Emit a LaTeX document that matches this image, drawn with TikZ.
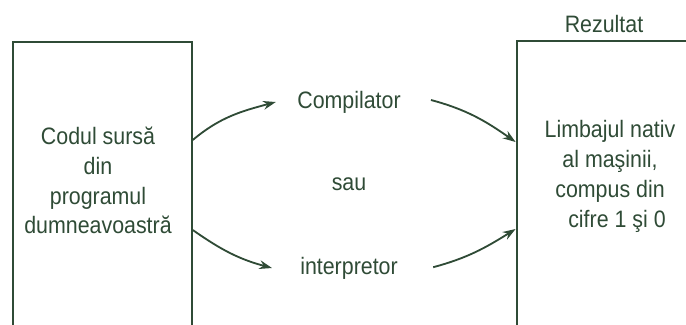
\documentclass[tikz,border=0pt]{standalone}
\usepackage{fontspec}
\setmainfont{Liberation Sans}[FakeStretch=0.9]
\usepackage{xcolor}
\usetikzlibrary{arrows.meta,calc}
\definecolor{inkGreen}{HTML}{2F4B36}
\tikzset{
  font=\fontsize{16.9}{21.3}\selectfont,
  every node/.style={text=inkGreen},
  arrow/.style={-{Stealth[length=3.2mm,width=2.2mm]}, draw=inkGreen, line width=1.3pt},
  frame/.style={rectangle, draw=inkGreen, line width=1.4pt, anchor=north west},
  block/.style={align=center, inner sep=0pt},
  stage/.style={inner sep=0pt}
}

\begin{document}
\begin{tikzpicture}[x=1cm,y=1cm]
\useasboundingbox (0,0) rectangle (17.15,8.1);

% --------------------------------------------------------------------------
% Source and result frames (open at the bottom)
% --------------------------------------------------------------------------
\node[frame, minimum width=4.48cm, minimum height=8.6cm] (src) at (0.29,7.075) {};
\node[frame, minimum width=5.5cm, minimum height=8.6cm] (res) at (12.89,7.1) {};
\node[stage] (resTitle) at (15.1,7.5) {Rezultat};

\node[block] (srcText) at (2.45,3.59) {Codul sursă\\din\\programul\\dumneavoastră};
\node[block] (resText) at (15.25,3.68) {Limbajul nativ\\al maşinii,\\compus din\\\hspace*{0.35cm}cifre 1 şi 0};

% --------------------------------------------------------------------------
% Translation paths
% --------------------------------------------------------------------------
\node[stage] (comp) at (8.725,5.55) {Compilator};
\node[stage] (sau) at (8.725,3.5) {sau};
\node[stage] (interp) at (8.725,1.4) {interpretor};

\coordinate (srcTop) at ($(src.north east)+(0,-2.475)$);
\coordinate (srcBot) at ($(src.north east)+(0,-4.725)$);
\coordinate (resTop) at ($(res.north west)+(0,-2.55)$);
\coordinate (resBot) at ($(res.north west)+(0,-4.725)$);

\draw[arrow] (srcTop) to[out=40,in=195] ($(comp.west)+(-0.53,0.0)$);
\draw[arrow] ($(comp.east)+(0.75,0.05)$) to[out=-15,in=145] (resTop);
\draw[arrow] (srcBot) to[out=-35,in=165] ($(interp.west)+(-0.7,0.0)$);
\draw[arrow] ($(interp.east)+(0.88,0.02)$) to[out=15,in=212] (resBot);

\end{tikzpicture}
\end{document}
